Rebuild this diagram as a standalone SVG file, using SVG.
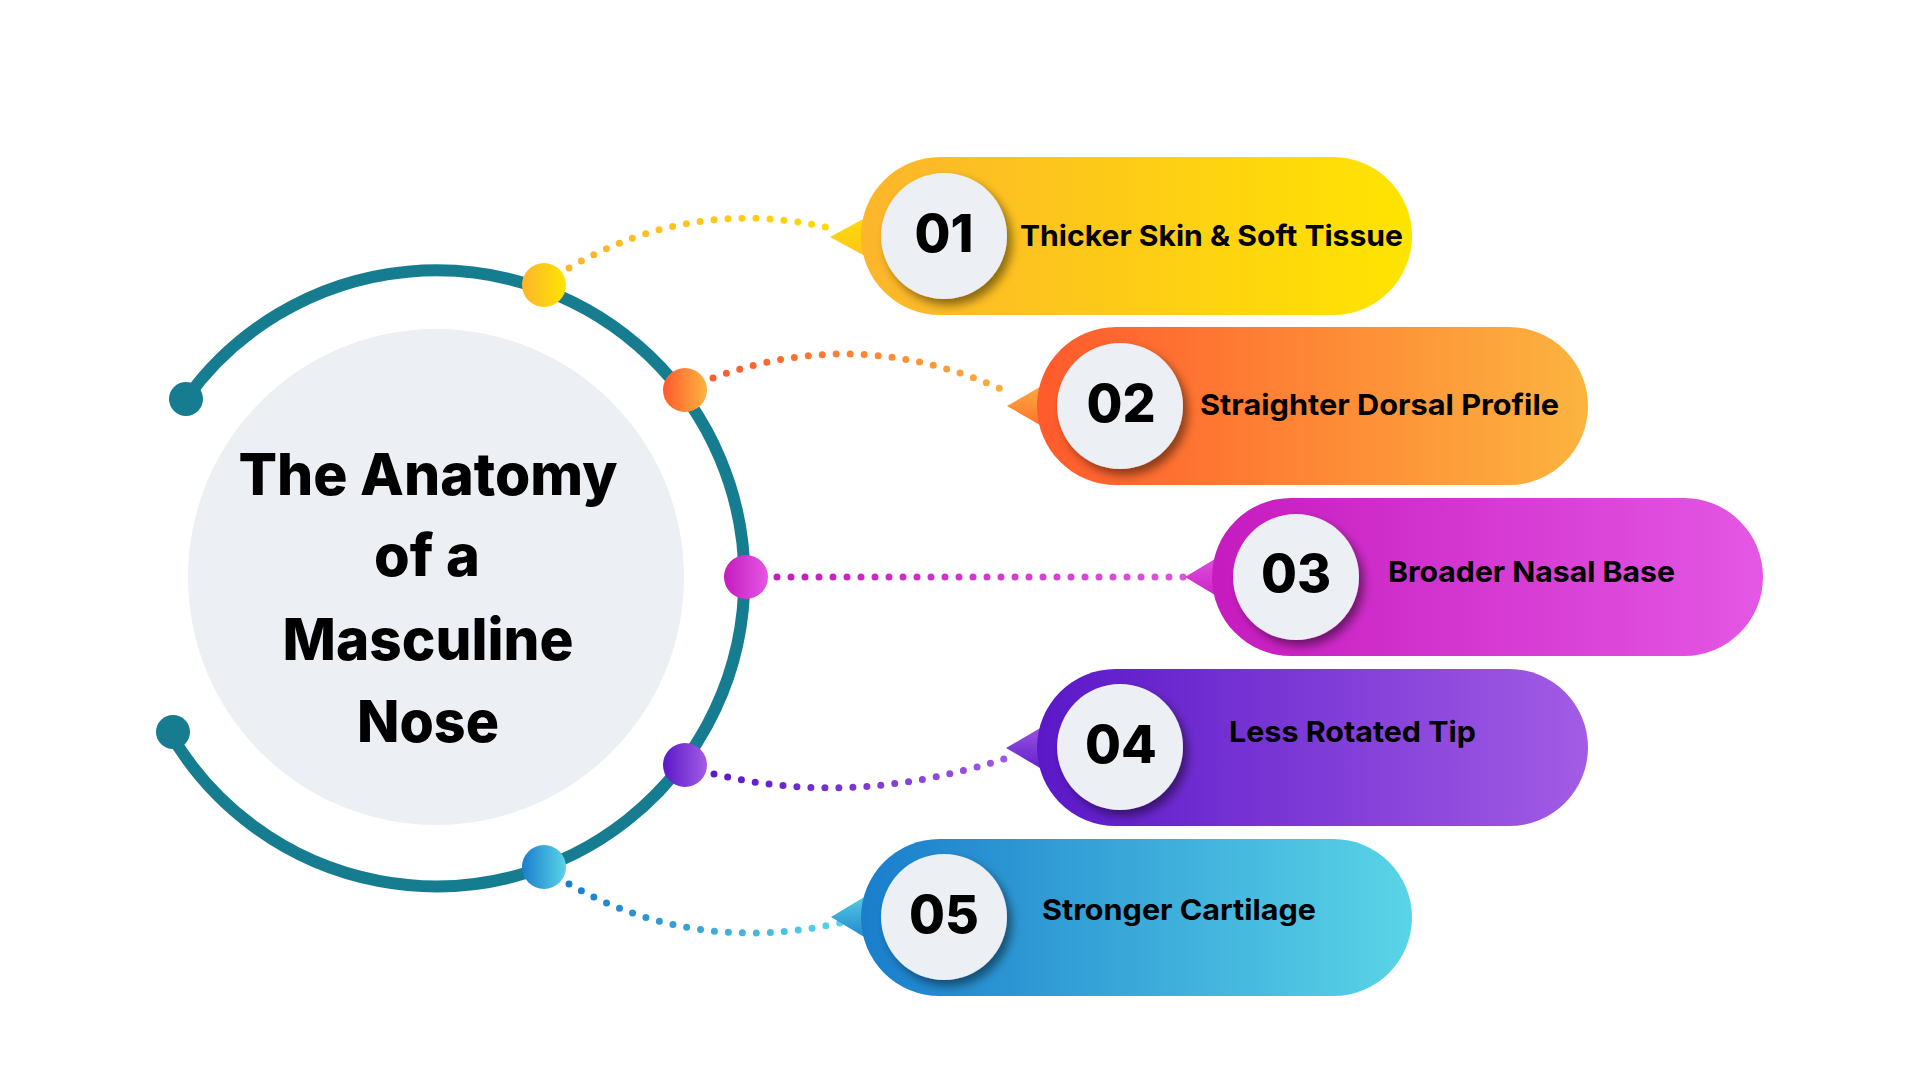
<svg xmlns="http://www.w3.org/2000/svg" width="1920" height="1080" viewBox="0 0 1920 1080">
<defs>
<style>
.title{font-family:Inter,"Noto Sans","Liberation Sans",sans-serif;font-weight:800;font-size:58px;fill:#000;text-anchor:middle}
.num{font-family:Inter,"Noto Sans","Liberation Sans",sans-serif;font-weight:800;font-size:52px;fill:#000;text-anchor:middle}
.lbl{font-family:Inter,"Noto Sans","Liberation Sans",sans-serif;font-weight:700;font-size:29px;fill:#000}
.badge{fill:#ECEFF4;filter:url(#sh)}
.dots{fill:none;stroke-width:7;stroke-dasharray:0 14;stroke-linecap:round}
</style>
<filter id="sh" x="-30%" y="-30%" width="170%" height="170%">
<feDropShadow dx="5" dy="6" stdDeviation="5" flood-color="#000" flood-opacity="0.45"/>
</filter>
<linearGradient id="g1"><stop offset="0" stop-color="#FCB52C"/><stop offset="1" stop-color="#FFE400"/></linearGradient>
<linearGradient id="g2"><stop offset="0" stop-color="#FF5A2C"/><stop offset="1" stop-color="#FCB43F"/></linearGradient>
<linearGradient id="g3"><stop offset="0" stop-color="#C61BBF"/><stop offset="1" stop-color="#E457E4"/></linearGradient>
<linearGradient id="g4"><stop offset="0" stop-color="#5A18C8"/><stop offset="1" stop-color="#A25CE5"/></linearGradient>
<linearGradient id="g5"><stop offset="0" stop-color="#1A7ECC"/><stop offset="1" stop-color="#5AD4E7"/></linearGradient>
<linearGradient id="t1" x1="0" y1="0" x2="0" y2="1"><stop offset="0" stop-color="#FFE000"/><stop offset="1" stop-color="#FCC020"/></linearGradient>
<linearGradient id="t2" x1="0" y1="0" x2="0" y2="1"><stop offset="0" stop-color="#FCB43F"/><stop offset="1" stop-color="#FF6A2C"/></linearGradient>
<linearGradient id="t3" x1="0" y1="0" x2="0" y2="1"><stop offset="0" stop-color="#E457E4"/><stop offset="1" stop-color="#C61BBF"/></linearGradient>
<linearGradient id="t4" x1="0" y1="0" x2="0" y2="1"><stop offset="0" stop-color="#A25CE5"/><stop offset="1" stop-color="#5A18C8"/></linearGradient>
<linearGradient id="t5" x1="0" y1="0" x2="0" y2="1"><stop offset="0" stop-color="#5AD4E7"/><stop offset="1" stop-color="#1A7ECC"/></linearGradient>
<linearGradient id="c1" gradientUnits="userSpaceOnUse" x1="569" y1="0" x2="838" y2="0"><stop offset="0" stop-color="#FCB52C"/><stop offset="1" stop-color="#FFD90A"/></linearGradient>
<linearGradient id="c2" gradientUnits="userSpaceOnUse" x1="713" y1="0" x2="1012" y2="0"><stop offset="0" stop-color="#FF5A2C"/><stop offset="1" stop-color="#FCB03C"/></linearGradient>
<linearGradient id="c3" gradientUnits="userSpaceOnUse" x1="777" y1="0" x2="1184" y2="0"><stop offset="0" stop-color="#C81BBE"/><stop offset="1" stop-color="#E052E0"/></linearGradient>
<linearGradient id="c4" gradientUnits="userSpaceOnUse" x1="714" y1="0" x2="1016" y2="0"><stop offset="0" stop-color="#5A18C8"/><stop offset="1" stop-color="#A05AE4"/></linearGradient>
<linearGradient id="c5" gradientUnits="userSpaceOnUse" x1="569" y1="0" x2="840" y2="0"><stop offset="0" stop-color="#1A7ECC"/><stop offset="1" stop-color="#58D3E6"/></linearGradient>
</defs>
<rect width="1920" height="1080" fill="#fff"/>

<g id="hub">
<circle cx="436" cy="577" r="248" fill="#ECEFF4"/>
<path d="M186 399 A308 308 0 1 1 170 733" fill="none" stroke="#167C8F" stroke-width="12"/>
<circle cx="186" cy="399" r="17" fill="#167C8F"/>
<circle cx="173" cy="732" r="17" fill="#167C8F"/>
<text class="title" x="428" y="495" textLength="379" lengthAdjust="spacingAndGlyphs">The Anatomy</text>
<text class="title" x="427" y="576" textLength="106" lengthAdjust="spacingAndGlyphs">of a</text>
<text class="title" x="428" y="660" textLength="291" lengthAdjust="spacingAndGlyphs">Masculine</text>
<text class="title" x="428" y="742" textLength="142" lengthAdjust="spacingAndGlyphs">Nose</text>
</g>

<g id="connectors">
<path class="dots" stroke="url(#c1)" d="M569 268 Q696 194 838 230"/>
<path class="dots" stroke="url(#c2)" d="M713 378 Q863 323 1012 394"/>
<path class="dots" stroke="url(#c3)" d="M777 577 L1184 577"/>
<path class="dots" stroke="url(#c4)" d="M714 774 Q858 809 1016 755"/>
<path class="dots" stroke="url(#c5)" d="M569 884 Q693 955 840 923"/>
<circle cx="544" cy="285" r="22" fill="url(#g1)"/>
<circle cx="685" cy="390" r="22" fill="url(#g2)"/>
<circle cx="746" cy="577" r="22" fill="url(#g3)"/>
<circle cx="685" cy="765" r="22" fill="url(#g4)"/>
<circle cx="544" cy="867" r="22" fill="url(#g5)"/>
</g>

<g id="item-01">
<polygon points="830,237 876,212 876,262" fill="url(#t1)"/>
<rect x="861" y="157" width="551" height="158" rx="79" fill="url(#g1)"/>
<circle class="badge" cx="944" cy="236" r="63"/>
<text class="num" x="944" y="252">01</text>
<text class="lbl" x="1020" y="246" textLength="383" lengthAdjust="spacingAndGlyphs">Thicker Skin &amp; Soft Tissue</text>
</g>

<g id="item-02">
<polygon points="1007,406 1052,380 1052,432" fill="url(#t2)"/>
<rect x="1037" y="327" width="551" height="158" rx="79" fill="url(#g2)"/>
<circle class="badge" cx="1120" cy="406" r="63"/>
<text class="num" x="1121" y="422">02</text>
<text class="lbl" x="1200" y="415" textLength="359" lengthAdjust="spacingAndGlyphs">Straighter Dorsal Profile</text>
</g>

<g id="item-03">
<polygon points="1185,577 1230,550 1230,604" fill="url(#t3)"/>
<rect x="1212" y="498" width="551" height="158" rx="79" fill="url(#g3)"/>
<circle class="badge" cx="1296" cy="577" r="63"/>
<text class="num" x="1296" y="592">03</text>
<text class="lbl" x="1388" y="582" textLength="287" lengthAdjust="spacingAndGlyphs">Broader Nasal Base</text>
</g>

<g id="item-04">
<polygon points="1006,748 1052,721 1052,775" fill="url(#t4)"/>
<rect x="1037" y="669" width="551" height="157" rx="78.5" fill="url(#g4)"/>
<circle class="badge" cx="1120" cy="747" r="63"/>
<text class="num" x="1121" y="763">04</text>
<text class="lbl" x="1229" y="742" textLength="247" lengthAdjust="spacingAndGlyphs">Less Rotated Tip</text>
</g>

<g id="item-05">
<polygon points="831,917 876,890 876,944" fill="url(#t5)"/>
<rect x="861" y="839" width="551" height="157" rx="78.5" fill="url(#g5)"/>
<circle class="badge" cx="944" cy="917" r="63"/>
<text class="num" x="944" y="933">05</text>
<text class="lbl" x="1042" y="920" textLength="274" lengthAdjust="spacingAndGlyphs">Stronger Cartilage</text>
</g>
</svg>
